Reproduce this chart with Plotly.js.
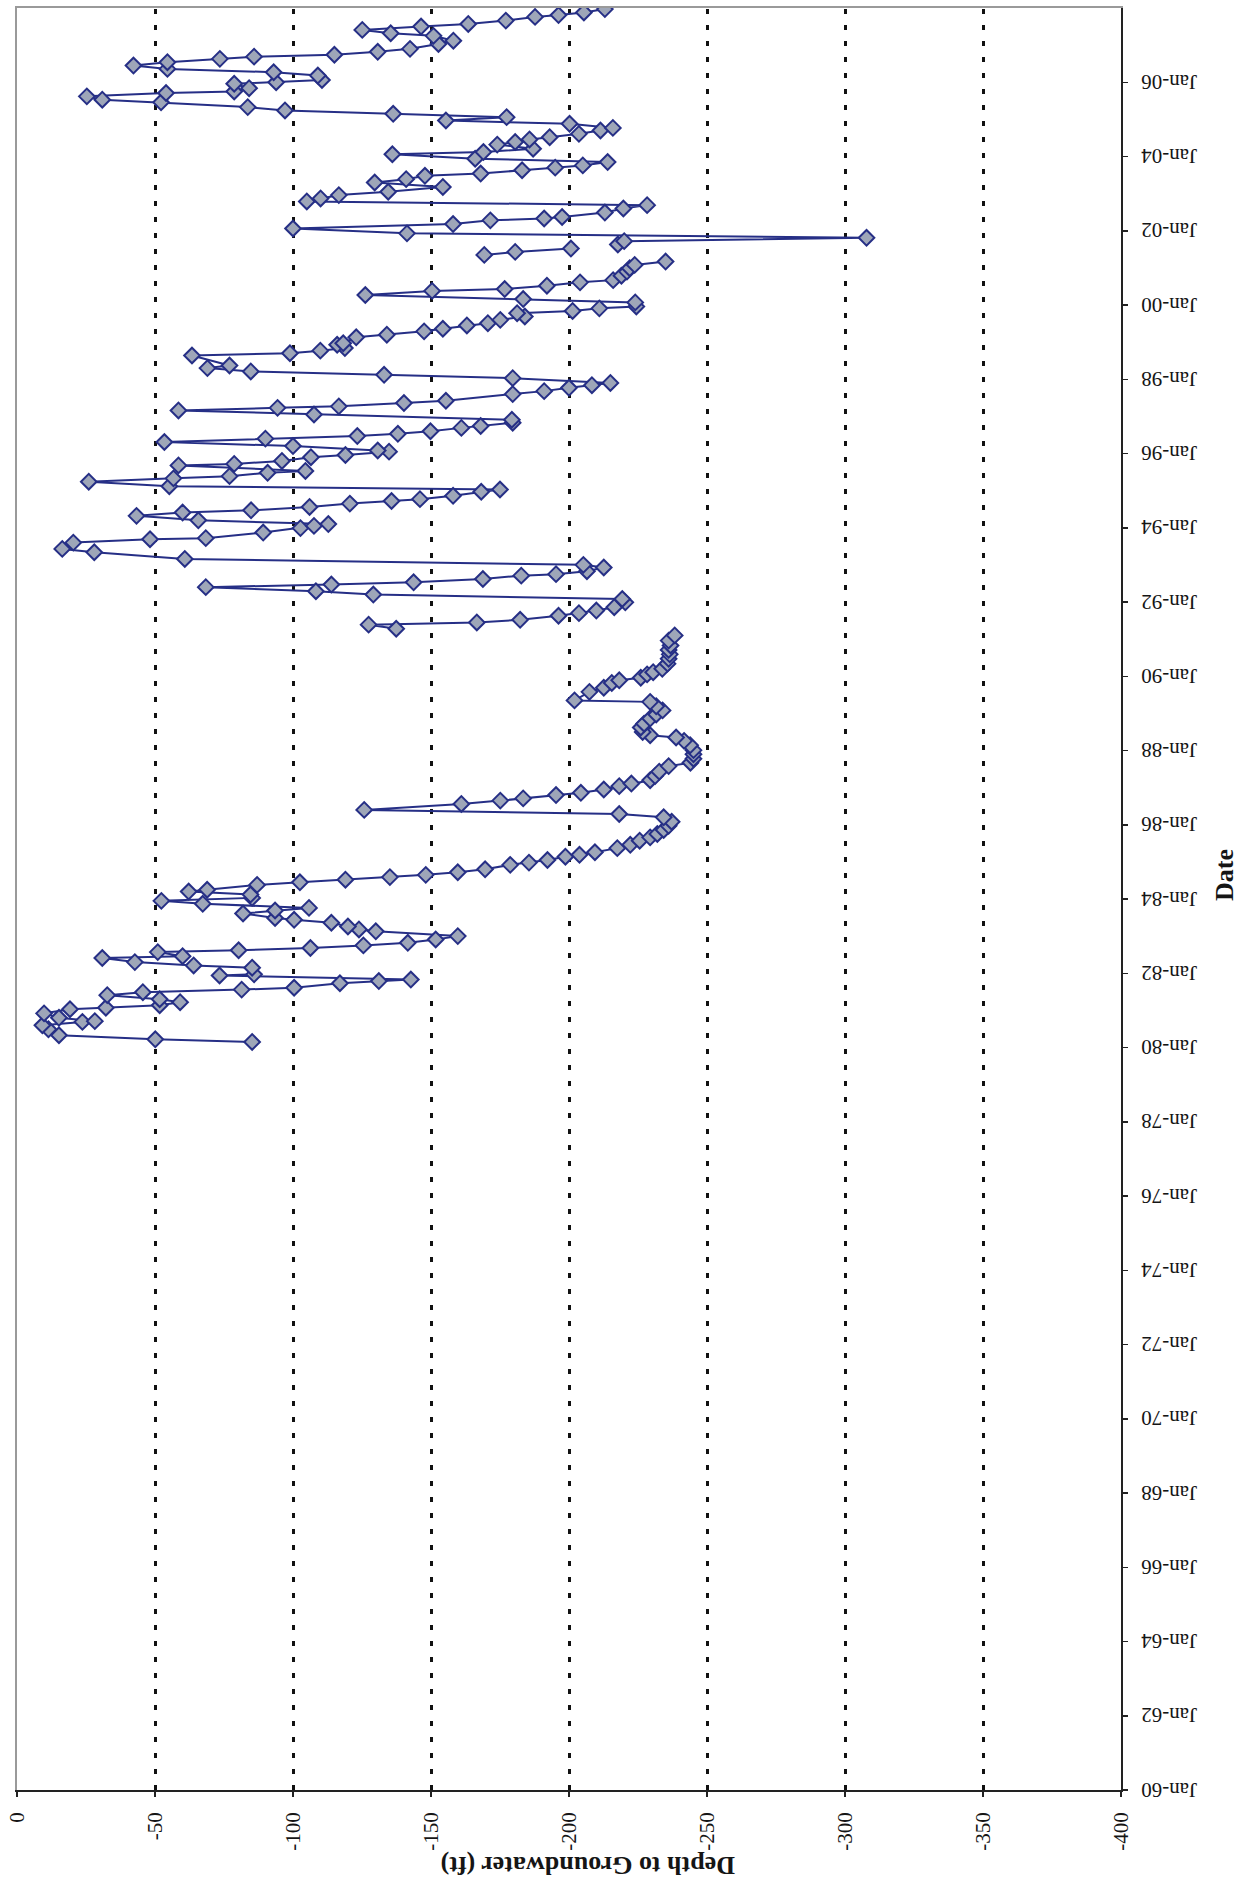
<!DOCTYPE html>
<html>
<head>
<meta charset="utf-8">
<script src="https://cdn.plot.ly/plotly-3.0.1.min.js"></script>
<style>
html,body{margin:0;padding:0;background:#ffffff;overflow:hidden;}
#wrap{width:1243px;height:1891px;transform:rotate(180deg);transform-origin:50% 50%;}
#chart{width:1243px;height:1891px;}
</style>
</head>
<body>
<div id="wrap"><div id="chart"></div></div>
<script>
// Measurement dates (decimal years) and depth to groundwater (ft); null = gap in record
const years = [
  1980.15,1980.22,1980.33,1980.49,1980.60,1980.69,1980.71,1980.80,1980.92,1981.03,
  1981.07,1981.14,1981.22,1981.30,1981.41,1981.49,1981.56,1981.61,1981.73,1981.79,
  1981.83,1981.94,1981.97,1982.15,1982.21,1982.30,1982.41,1982.46,1982.57,1982.62,
  1982.68,1982.75,1982.82,1982.91,1983.00,1983.13,1983.18,1983.26,1983.36,1983.44,
  1983.49,1983.61,1983.69,1983.76,1983.87,1983.95,1984.03,1984.12,1984.20,1984.25,
  1984.38,1984.45,1984.52,1984.59,1984.65,1984.72,1984.80,1984.92,1984.98,1985.05,
  1985.14,1985.19,1985.26,
  1985.37,1985.46,1985.57,1985.66,1985.75,1985.86,1985.97,1986.08,1986.20,1986.29,
  1986.40,1986.56,1986.65,1986.71,1986.80,1986.86,1986.95,1987.04,1987.11,1987.20,
  1987.31,1987.43,1987.58,1987.67,1987.78,1987.90,1988.01,1988.14,1988.26,1988.35,
  1988.41,1988.50,1988.62,1988.72,1988.86,1988.97,1989.08,1989.19,1989.31,1989.35,
  1989.58,1989.69,1989.82,1989.89,1989.96,1990.05,1990.11,1990.20,1990.34,1990.47,
  1990.59,1990.71,1990.83,1990.96,1991.10,
  1991.19,
  1991.28,1991.39,1991.45,1991.52,1991.63,1991.70,1991.77,1991.86,1991.99,1992.08,
  1992.20,1992.29,1992.40,1992.47,1992.53,1992.62,1992.71,1992.75,1992.83,1992.93,
  1993.00,1993.16,1993.34,1993.43,1993.60,1993.69,1993.72,1993.87,1993.99,1994.05,
  1994.10,1994.20,1994.32,1994.41,1994.47,1994.56,1994.65,1994.72,1994.77,1994.86,
  1994.97,1995.03,1995.12,1995.24,1995.33,1995.39,1995.48,1995.53,1995.68,1995.72,
  1995.80,1995.90,1995.96,1996.05,1996.08,1996.20,1996.31,1996.40,1996.47,1996.53,
  1996.60,1996.69,1996.74,1996.83,1996.91,1997.05,1997.16,1997.23,1997.27,1997.36,
  1997.42,1997.60,1997.68,1997.77,1997.84,1997.90,1998.03,1998.12,1998.21,1998.30,
  1998.37,1998.64,1998.70,1998.77,1998.84,1998.93,1998.97,1999.13,1999.20,1999.29,
  1999.36,1999.45,1999.51,1999.60,1999.69,1999.78,1999.84,1999.91,1999.96,2000.07,
  2000.16,2000.27,2000.38,2000.43,2000.52,2000.61,2000.67,2000.79,2000.90,2000.99,
  2001.08,2001.17,
  2001.26,
  2001.35,2001.43,2001.52,
  2001.58,
  2001.63,2001.72,2001.81,2001.93,2002.06,2002.18,2002.28,2002.33,2002.37,2002.49,
  2002.60,2002.69,2002.79,2002.87,2002.96,2003.05,2003.18,2003.30,2003.39,2003.48,
  2003.54,2003.63,2003.70,2003.76,2003.85,2003.94,2004.06,2004.12,2004.21,2004.32,
  2004.39,2004.46,2004.52,2004.61,2004.70,2004.77,2004.88,2004.97,2005.06,2005.15,
  2005.24,2005.33,2005.46,2005.53,2005.62,2005.71,2005.75,2005.84,2005.96,2006.00,
  2006.06,2006.18,2006.27,2006.36,2006.45,2006.54,2006.63,2006.69,2006.74,2006.82,
  2006.90,2007.03,2007.12,2007.25,2007.32,2007.41,2007.50,2007.57,2007.66,2007.76,
  2007.81,2007.88,2007.97
];
const depthFt = [
  -85.2,-50.1,-15.2,-11.4,-9.2,-23.7,-28.2,-15.2,-9.8,-19.2,
  -32.2,-51.7,-59.1,-51.7,-32.7,-45.6,-81.4,-100.4,-117.0,-131.1,
  -142.7,-73.4,-85.9,-85.2,-64.0,-42.7,-30.9,-60.0,-51.0,-80.3,
  -106.3,-125.5,-141.6,-151.7,-159.7,-130.0,-123.9,-119.9,-113.9,-100.4,
  -93.5,-81.9,-93.5,-105.8,-67.3,-52.3,-85.2,-84.6,-62.2,-68.9,
  -87.0,-102.5,-119.0,-135.1,-148.1,-159.7,-169.6,-178.7,-185.5,-192.2,
  -198.7,-203.8,-209.4,
  -217.5,-222.2,-225.6,-229.4,-232.0,-234.3,-236.1,-237.2,-234.3,-218.2,
  -125.8,-161.0,-175.1,-183.4,-195.3,-204.3,-212.6,-218.2,-222.6,-229.4,
  -231.2,-232.7,-236.1,-244.0,-245.1,-245.1,-245.1,-243.9,-241.7,-238.8,
  -229.4,-226.7,-226.0,-227.2,-229.4,-231.6,-233.9,-231.6,-229.4,-202.0,
  -207.4,-212.6,-215.5,-218.2,-226.0,-228.3,-230.5,-233.8,-235.7,-236.1,
  -236.5,-236.1,-236.8,-236.1,-238.3,
  null,
  -137.4,-127.4,-166.6,-182.3,-196.2,-203.6,-209.9,-216.4,-220.4,-219.3,
  -129.1,-108.3,-68.4,-113.9,-143.7,-168.8,-182.7,-195.3,-206.5,-212.6,
  -205.2,-60.8,-28.0,-16.4,-20.4,-48.2,-68.4,-89.2,-102.7,-107.6,
  -112.8,-65.7,-43.3,-60.0,-84.8,-106.0,-120.6,-135.7,-146.0,-158.0,
  -168.2,-175.0,-55.2,-26.0,-56.7,-77.0,-90.8,-104.5,-58.5,-78.7,
  -96.0,-106.5,-119.0,-134.8,-130.7,-100.0,-53.4,-90.0,-123.3,-138.0,
  -149.8,-161.0,-168.0,-179.6,-179.3,-107.6,-58.5,-94.4,-116.6,-140.2,
  -155.4,-179.6,-191.0,-200.0,-208.3,-215.0,-179.6,-133.0,-84.7,-69.0,
  -77.0,-63.4,-98.9,-109.9,-118.8,-116.0,-118.2,-122.9,-134.0,-147.5,
  -154.3,-163.0,-170.6,-175.1,-184.0,-181.2,-201.3,-211.0,-224.4,-224.0,
  -183.4,-126.2,-150.4,-176.7,-192.0,-204.0,-216.0,-219.0,-221.0,-222.0,
  -223.8,-235.0,
  null,
  -169.3,-180.5,-200.7,
  null,
  -217.7,-220.0,-307.8,-141.3,-100.0,-158.0,-171.5,-191.0,-197.5,-213.0,
  -219.7,-228.3,-105.0,-110.0,-116.6,-134.5,-154.3,-129.6,-141.0,-147.8,
  -168.0,-183.0,-195.0,-205.0,-214.0,-166.0,-136.0,-169.0,-187.0,-174.0,
  -180.5,-185.7,-193.0,-203.6,-211.4,-215.9,-200.2,-155.4,-177.4,-136.3,
  -97.1,-83.6,-52.2,-30.9,-25.3,-54.0,-78.7,-84.1,-78.7,-93.9,
  -110.5,-109.0,-93.0,-54.5,-42.2,-54.5,-73.5,-85.9,-115.0,-130.7,
  -142.4,-152.7,-158.1,-150.9,-135.4,-125.1,-146.4,-163.5,-177.1,-187.7,
  -196.2,-205.4,-213.0
];

const dateTickVals = [1960,1962,1964,1966,1968,1970,1972,1974,1976,1978,1980,1982,
                      1984,1986,1988,1990,1992,1994,1996,1998,2000,2002,2004,2006];
const dateTickText = ['Jan-60','Jan-62','Jan-64','Jan-66','Jan-68','Jan-70','Jan-72','Jan-74',
                      'Jan-76','Jan-78','Jan-80','Jan-82','Jan-84','Jan-86','Jan-88','Jan-90',
                      'Jan-92','Jan-94','Jan-96','Jan-98','Jan-00','Jan-02','Jan-04','Jan-06'];
const dateRange = [2008, 1960];
const depthTickVals = [0,-50,-100,-150,-200,-250,-300,-350,-400];
const depthTickText = ['0','-50','-100','-150','-200','-250','-300','-350','-400'];
const depthGridVals = [-50,-100,-150,-200,-250,-300,-350];
const depthRange = [-400, 0];

const xTitle = 'Depth to Groundwater (ft)';
const yTitle = 'Date';

const serif = '"Liberation Serif", "Times New Roman", Times, serif';
const navy = '#262f86';

const trace = {
  type: 'scatter',
  mode: 'lines+markers',
  x: depthFt,
  y: years,
  connectgaps: false,
  line: {color: navy, width: 2},
  marker: {symbol: 'diamond', size: 12, color: '#9ea6b8', line: {color: navy, width: 2}},
  hoverinfo: 'skip',
  showlegend: false
};
// empty helper traces so the overlay axes (grid + plain border) are drawn
const gridHolder = {type: 'scatter', mode: 'markers', x: [], y: [], xaxis: 'x2', yaxis: 'y',
                    hoverinfo: 'skip', showlegend: false};
const borderHolder = {type: 'scatter', mode: 'markers', x: [], y: [], xaxis: 'x', yaxis: 'y2',
                      hoverinfo: 'skip', showlegend: false};

const layout = {
  width: 1243,
  height: 1891,
  margin: {l: 122, r: 17, t: 101, b: 8, pad: 0},
  paper_bgcolor: '#ffffff',
  plot_bgcolor: '#ffffff',
  showlegend: false,
  font: {family: serif, size: 21, color: '#151515'},
  xaxis: {
    side: 'top', range: depthRange, tickmode: 'array',
    tickvals: depthTickVals, ticktext: depthTickText, tickangle: 90,
    ticks: 'outside', ticklen: 5, tickwidth: 1.5, tickcolor: '#222',
    ticklabelstandoff: 8,
    showline: true, linecolor: '#222', linewidth: 2,
    showgrid: false, zeroline: false, fixedrange: true
  },
  xaxis2: {
    overlaying: 'x', side: 'bottom', anchor: 'y', range: depthRange,
    tickmode: 'array', tickvals: depthGridVals, showticklabels: false, ticks: '',
    showgrid: true, gridcolor: '#111111', gridwidth: 3, griddash: '5px,11px',
    showline: true, linecolor: '#9a9a9a', linewidth: 2, zeroline: false, fixedrange: true
  },
  yaxis: {
    side: 'left', range: dateRange, tickmode: 'array',
    tickvals: dateTickVals, ticktext: dateTickText,
    ticks: 'outside', ticklen: 5, tickwidth: 1.5, tickcolor: '#222',
    ticklabelstandoff: 9,
    showline: true, linecolor: '#222', linewidth: 2,
    showgrid: false, zeroline: false, fixedrange: true
  },
  yaxis2: {
    overlaying: 'y', side: 'right', anchor: 'x', range: dateRange,
    showticklabels: false, ticks: '', showgrid: false,
    showline: true, linecolor: '#9a9a9a', linewidth: 2, zeroline: false, fixedrange: true
  },
  annotations: [
    {text: xTitle, xref: 'paper', yref: 'paper', x: 0.483, y: 1, yshift: 76,
     xanchor: 'center', yanchor: 'middle', showarrow: false,
     font: {family: serif, size: 26, color: '#151515', weight: 'bold'}},
    {text: yTitle, xref: 'paper', yref: 'paper', x: -0.0933, y: 0.4865, textangle: 90,
     xanchor: 'center', yanchor: 'middle', showarrow: false,
     font: {family: serif, size: 26, color: '#151515', weight: 'bold'}}
  ]
};

Plotly.newPlot('chart', [gridHolder, borderHolder, trace], layout, {displayModeBar: false, staticPlot: true});
</script>
</body>
</html>
